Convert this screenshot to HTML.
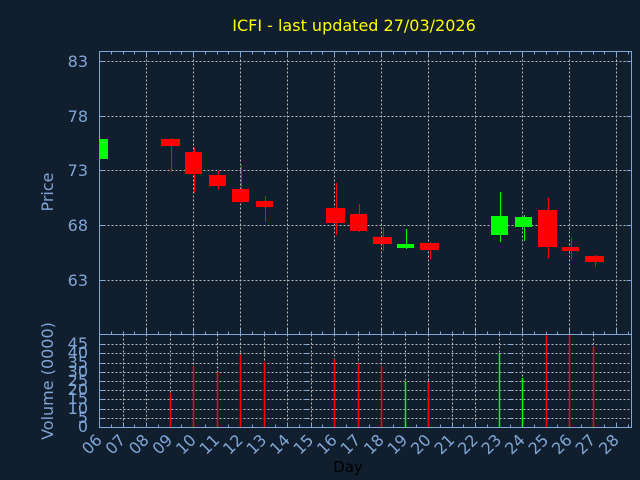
<!DOCTYPE html>
<html><head><meta charset="utf-8"><style>
body{margin:0;background:#111e2e;}
svg{display:block;font-family:"DejaVu Sans","Liberation Sans",sans-serif;}
</style></head><body>
<svg id="s" width="640" height="480" xmlns="http://www.w3.org/2000/svg">
<rect width="640" height="480" fill="#111e2e"/>
<text x="354" y="31" fill="#ffff00" font-size="16" text-anchor="middle">ICFI - last updated 27/03/2026</text>
<text x="53" y="192" fill="#7fa6d6" font-size="16" text-anchor="middle" transform="rotate(-90 53 192)">Price</text>
<text x="53" y="381" fill="#7fa6d6" font-size="16" text-anchor="middle" transform="rotate(-90 53 381)">Volume (0000)</text>
<text x="348" y="472" fill="#000" font-size="15" text-anchor="middle">Day</text>
<g id="g"></g>
</svg>
<script>
const g=document.getElementById('g');let h='';
const AX='#7fa6d6',GR='#b8b8b8';
const L=99.5,R=631.5,T=51.5,PB=334.5,VB=427.5;
const X=d=>99+(d-6)*23.5;
[[83,61],[78,116],[73,170],[68,225],[63,280]].forEach(([v,y])=>{
 h+=`<line x1="${L}" x2="${R}" y1="${y+.5}" y2="${y+.5}" stroke="${GR}" stroke-dasharray="2,2"/>`;
 h+=`<line x1="${L}" x2="${L+5}" y1="${y+.5}" y2="${y+.5}" stroke="${AX}"/><line x1="${R-5}" x2="${R}" y1="${y+.5}" y2="${y+.5}" stroke="${AX}"/>`;
 h+=`<text x="88" y="${y+6}" fill="${AX}" font-size="16" text-anchor="end">${v}</text>`;});
const vy=[427,418,409,399,390,381,372,363,353,344];
vy.forEach((y,i)=>{ if(i>0) h+=`<line x1="${L}" x2="${R}" y1="${y+.5}" y2="${y+.5}" stroke="${GR}" stroke-dasharray="2,2"/><line x1="${L}" x2="${R}" y1="${y+.5}" y2="${y+.5}" stroke="${AX}" stroke-dasharray="4,200" />`;
 h+=`<text x="88" y="${y+5}" fill="${AX}" font-size="16" text-anchor="end">${i*5}</text>`;});
for(let x=146;x<631;x+=47){
 h+=`<line x1="${x+.5}" x2="${x+.5}" y1="${T}" y2="${PB}" stroke="${GR}" stroke-dasharray="2,2"/>`;}
for(let d=7;d<=27;d++){const x=Math.round(X(d))+.5;
 h+=`<line x1="${x}" x2="${x}" y1="${PB}" y2="${VB}" stroke="${GR}" stroke-dasharray="2,2"/>`;}
for(let x=99;x<=631;x+=11.75){const xx=Math.round(x)+.5;const big=Math.abs(((x-99)%47))<0.1;
 const l=big?5:3;
 h+=`<line x1="${xx}" x2="${xx}" y1="${T}" y2="${T+l}" stroke="${AX}"/><line x1="${xx}" x2="${xx}" y1="${PB}" y2="${PB-l}" stroke="${AX}"/><line x1="${xx}" x2="${xx}" y1="${VB}" y2="${VB-l}" stroke="${AX}"/>`;}
h+=`<rect x="${L}" y="${T}" width="${R-L}" height="${PB-T}" fill="none" stroke="${AX}"/>`;
h+=`<rect x="${L}" y="${PB}" width="${R-L}" height="${VB-PB}" fill="none" stroke="${AX}"/>`;
for(let d=6;d<=28;d++){const x=X(d)+4;
 h+=`<text x="${x}" y="441" fill="${AX}" font-size="16" text-anchor="end" transform="rotate(-45 ${x} 441)">${String(d).padStart(2,'0')}</text>`;}
const C=[[6,'g',99,108,139,159,139,159],[9,'r',161,180,139,146,138,172],[10,'r',185,202,152,174,147,193],
[11,'r',209,226,175,186,171,189],[12,'r',232,249,189,202,165,203],[13,'r',256,273,201,207,196,222],
[16,'r',326,345,208,223,183,235],[17,'r',350,367,214,231,204,232],[18,'r',373,392,237,244,227,251],
[19,'g',397,414,244,248,229,249],[20,'r',420,439,243,250,242,259],[23,'g',491,508,216,235,192,242],
[24,'g',515,532,217,227,215,241],[25,'r',538,557,210,247,198,258],[26,'r',562,579,247,251,238,260],[27,'r',585,604,256,262,255,267]];
C.forEach(([d,c,x1,x2,bt,bb,wt,wb])=>{const col=c=='g'?'#00ff00':'#ff0000';const xm=Math.round((x1+x2)/2)+.5;
 if(d>6)h+=`<line x1="${xm}" x2="${xm}" y1="${wt}" y2="${wb}" stroke="${col}"/>`;
 h+=`<rect x="${x1}" y="${bt}" width="${x2-x1}" height="${bb-bt}" fill="${col}"/>`;});
const V=[[9,'r',393],[10,'r',367],[11,'r',372],[12,'r',355],[13,'r',362],[16,'r',359],[17,'r',363],[18,'r',367],
[19,'g',382],[20,'r',382],[23,'g',353],[24,'g',378],[25,'r',335],[26,'r',335],[27,'r',347]];
V.forEach(([d,c,y])=>{const col=c=='g'?'#00ff00':'#ff0000';const x=Math.round(X(d))+.5;
 h+=`<line x1="${x}" x2="${x}" y1="${y}" y2="427" stroke="${col}" stroke-width="1.5"/>`;});
g.innerHTML=h;
</script>
</body></html>
